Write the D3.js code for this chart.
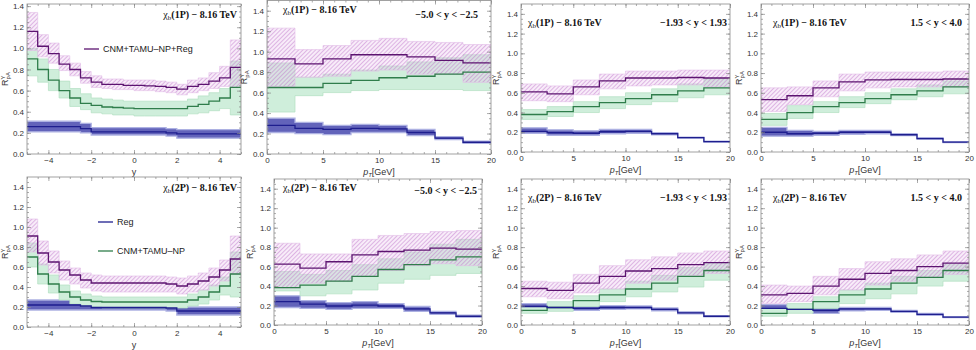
<!DOCTYPE html>
<html>
<head>
<meta charset="utf-8">
<script src="https://cdnjs.cloudflare.com/ajax/libs/d3/7.8.5/d3.min.js"></script>
<style>
body { margin: 0; background: #fff; }
svg { display: block; font-family: 'Liberation Sans', Arial, sans-serif; }
</style>
</head>
<body>
<script>
// bin edges
const yBins = [-5, -4.5, -4, -3.5, -3, -2.5, -2, -1.5, -1, -0.5, 0, 0.5, 1, 1.5, 2, 2.5, 3, 3.5, 4, 4.5, 5]
const ptBins = [0, 2.5, 5, 7.5, 10, 12.5, 15, 17.5, 20]

// each bin: [low, central, high]
// chi_b(1P) vs rapidity
const full1P_y = [[0.98,1.16,1.34],[0.92,1.02,1.13],[0.86,0.95,1.05],[0.79,0.85,0.93],[0.74,0.80,0.86],[0.67,0.72,0.78],[0.63,0.68,0.74],[0.62,0.66,0.71],[0.61,0.66,0.71],[0.61,0.65,0.70],[0.60,0.65,0.70],[0.60,0.645,0.70],[0.59,0.64,0.69],[0.58,0.63,0.68],[0.56,0.615,0.66],[0.58,0.64,0.70],[0.60,0.66,0.72],[0.62,0.69,0.77],[0.64,0.72,0.83],[0.63,0.82,1.08]]
const cnm1P_y = [[0.74,0.90,1.00],[0.68,0.80,0.90],[0.60,0.70,0.80],[0.53,0.60,0.69],[0.45,0.53,0.62],[0.42,0.48,0.57],[0.39,0.46,0.53],[0.38,0.445,0.52],[0.37,0.44,0.51],[0.37,0.435,0.50],[0.36,0.43,0.50],[0.36,0.43,0.50],[0.36,0.43,0.50],[0.36,0.43,0.50],[0.36,0.43,0.50],[0.38,0.45,0.52],[0.39,0.47,0.55],[0.41,0.50,0.58],[0.43,0.53,0.62],[0.37,0.63,0.88]]
const reg1P_y = [[0.21,0.26,0.31],[0.21,0.26,0.31],[0.21,0.26,0.31],[0.21,0.26,0.31],[0.21,0.26,0.31],[0.20,0.24,0.29],[0.18,0.21,0.25],[0.18,0.21,0.25],[0.18,0.21,0.25],[0.18,0.21,0.25],[0.18,0.21,0.25],[0.18,0.21,0.25],[0.18,0.21,0.25],[0.17,0.20,0.24],[0.15,0.19,0.23],[0.15,0.19,0.23],[0.15,0.19,0.23],[0.15,0.19,0.23],[0.15,0.19,0.23],[0.15,0.19,0.23]]

// chi_b(1P) vs pT
const full1P_bwd = [[0.66,0.93,1.23],[0.75,0.88,1.02],[0.76,0.93,1.06],[0.81,0.97,1.11],[0.82,0.97,1.13],[0.78,0.95,1.10],[0.78,0.915,1.09],[0.70,0.89,1.07]]
const cnm1P_bwd = [[0.41,0.65,0.89],[0.57,0.65,0.75],[0.60,0.69,0.78],[0.62,0.72,0.82],[0.63,0.745,0.86],[0.63,0.76,0.90],[0.63,0.78,0.94],[0.62,0.80,0.97]]
const reg1P_bwd = [[0.21,0.28,0.35],[0.20,0.25,0.31],[0.19,0.24,0.28],[0.21,0.25,0.29],[0.21,0.245,0.28],[0.18,0.21,0.24],[0.14,0.155,0.17],[0.105,0.115,0.125]]

const full1P_mid = [[0.52,0.61,0.69],[0.51,0.59,0.67],[0.58,0.66,0.73],[0.64,0.72,0.79],[0.67,0.75,0.82],[0.68,0.75,0.82],[0.68,0.755,0.83],[0.66,0.75,0.83]]
const cnm1P_mid = [[0.33,0.38,0.43],[0.36,0.41,0.46],[0.40,0.46,0.51],[0.44,0.50,0.56],[0.48,0.54,0.60],[0.51,0.58,0.64],[0.55,0.62,0.69],[0.58,0.65,0.74]]
const reg1P_mid = [[0.19,0.21,0.245],[0.17,0.195,0.225],[0.17,0.19,0.215],[0.185,0.205,0.23],[0.19,0.21,0.23],[0.175,0.185,0.195],[0.14,0.145,0.15],[0.10,0.105,0.11]]

const full1P_fwd = [[0.41,0.53,0.65],[0.48,0.57,0.66],[0.56,0.65,0.72],[0.62,0.71,0.79],[0.65,0.73,0.81],[0.66,0.735,0.81],[0.66,0.735,0.81],[0.66,0.74,0.82]]
const cnm1P_fwd = [[0.27,0.33,0.39],[0.34,0.40,0.47],[0.40,0.46,0.51],[0.45,0.50,0.56],[0.49,0.54,0.60],[0.53,0.58,0.64],[0.56,0.62,0.68],[0.59,0.66,0.72]]
const reg1P_fwd = [[0.16,0.20,0.25],[0.16,0.185,0.22],[0.17,0.19,0.21],[0.18,0.20,0.22],[0.185,0.20,0.22],[0.165,0.175,0.185],[0.13,0.135,0.145],[0.095,0.10,0.105]]

// chi_b(2P) vs rapidity
const full2P_y = [[0.75,0.91,1.08],[0.62,0.74,0.86],[0.54,0.65,0.76],[0.47,0.57,0.66],[0.43,0.52,0.59],[0.39,0.47,0.54],[0.36,0.44,0.52],[0.35,0.44,0.51],[0.35,0.44,0.51],[0.35,0.44,0.51],[0.35,0.44,0.51],[0.35,0.44,0.51],[0.35,0.44,0.51],[0.35,0.43,0.50],[0.33,0.41,0.49],[0.35,0.43,0.51],[0.37,0.46,0.54],[0.41,0.50,0.59],[0.46,0.57,0.67],[0.53,0.68,0.91]]
const cnm2P_y = [[0.60,0.70,0.84],[0.43,0.53,0.63],[0.34,0.43,0.52],[0.27,0.35,0.42],[0.23,0.30,0.36],[0.21,0.27,0.33],[0.20,0.255,0.31],[0.19,0.25,0.30],[0.19,0.25,0.30],[0.19,0.25,0.30],[0.19,0.25,0.30],[0.19,0.25,0.30],[0.19,0.25,0.30],[0.19,0.25,0.30],[0.19,0.25,0.30],[0.21,0.27,0.33],[0.23,0.30,0.37],[0.27,0.35,0.42],[0.32,0.41,0.50],[0.30,0.53,0.75]]
const reg2P_y = [[0.17,0.22,0.27],[0.17,0.22,0.27],[0.17,0.22,0.27],[0.17,0.22,0.27],[0.17,0.22,0.27],[0.17,0.21,0.25],[0.17,0.195,0.22],[0.17,0.195,0.22],[0.17,0.195,0.22],[0.17,0.195,0.22],[0.17,0.195,0.22],[0.17,0.195,0.22],[0.17,0.195,0.22],[0.16,0.19,0.22],[0.12,0.16,0.20],[0.12,0.16,0.20],[0.12,0.16,0.20],[0.12,0.16,0.20],[0.12,0.16,0.20],[0.12,0.16,0.20]]

// chi_b(2P) vs pT
const full2P_bwd = [[0.38,0.625,0.84],[0.43,0.585,0.73],[0.45,0.65,0.73],[0.50,0.72,0.88],[0.56,0.755,0.92],[0.61,0.77,0.94],[0.63,0.79,0.96],[0.61,0.78,0.97]]
const cnm2P_bwd = [[0.35,0.385,0.55],[0.30,0.41,0.52],[0.32,0.45,0.56],[0.36,0.50,0.62],[0.43,0.57,0.68],[0.47,0.62,0.75],[0.51,0.67,0.83],[0.53,0.70,0.88]]
const reg2P_bwd = [[0.18,0.24,0.30],[0.17,0.215,0.25],[0.16,0.195,0.23],[0.17,0.205,0.24],[0.17,0.195,0.22],[0.14,0.165,0.19],[0.11,0.125,0.14],[0.08,0.09,0.10]]

const full2P_mid = [[0.29,0.375,0.45],[0.27,0.355,0.44],[0.33,0.43,0.52],[0.37,0.50,0.61],[0.43,0.555,0.67],[0.46,0.58,0.70],[0.51,0.62,0.74],[0.53,0.64,0.76]]
const cnm2P_mid = [[0.12,0.15,0.19],[0.14,0.18,0.24],[0.19,0.25,0.30],[0.24,0.31,0.37],[0.29,0.37,0.45],[0.34,0.43,0.51],[0.39,0.50,0.59],[0.46,0.56,0.64]]
const reg2P_mid = [[0.16,0.19,0.22],[0.155,0.18,0.205],[0.15,0.17,0.195],[0.16,0.18,0.20],[0.165,0.18,0.195],[0.145,0.16,0.175],[0.115,0.125,0.135],[0.085,0.09,0.095]]

const full2P_fwd = [[0.22,0.31,0.41],[0.24,0.325,0.40],[0.31,0.40,0.50],[0.36,0.47,0.58],[0.41,0.53,0.65],[0.45,0.56,0.68],[0.49,0.60,0.72],[0.52,0.635,0.76]]
const cnm2P_fwd = [[0.09,0.12,0.17],[0.12,0.16,0.22],[0.17,0.24,0.29],[0.22,0.31,0.36],[0.27,0.37,0.43],[0.32,0.43,0.50],[0.40,0.49,0.56],[0.45,0.56,0.62]]
const reg2P_fwd = [[0.14,0.17,0.21],[0.13,0.16,0.19],[0.12,0.15,0.18],[0.145,0.165,0.18],[0.15,0.165,0.18],[0.13,0.14,0.15],[0.10,0.11,0.12],[0.075,0.08,0.085]]

const yTicksMajor = [0, 0.2, 0.4, 0.6, 0.8, 1.0, 1.2, 1.4]
const rapTicks = [-4, -2, 0, 2, 4]
const ptTicks = [0, 5, 10, 15, 20]

// panel layout
const panels = [
    {left: 27, right: 241, top: 4, bottom: 154, ymax: 1.42, edges: yBins, kind: 'y', state: '1P',
        full: full1P_y, cnm: cnm1P_y, reg: reg1P_y, titleX: 237, titleY: 18, anchor: 'end', labX: 8},
    {left: 267, right: 491, top: 0.5, bottom: 154, ymax: 1.5, edges: ptBins, kind: 'pt', state: '1P',
        full: full1P_bwd, cnm: cnm1P_bwd, reg: reg1P_bwd, titleX: 283, titleY: 13, anchor: 'start',
        range: '−5.0 < y < −2.5', rangeX: 478, rangeY: 18, labX: 247},
    {left: 521, right: 730, top: 4, bottom: 152, ymax: 1.5, edges: ptBins, kind: 'pt', state: '1P',
        full: full1P_mid, cnm: cnm1P_mid, reg: reg1P_mid, titleX: 528, titleY: 26, anchor: 'start',
        range: '−1.93 < y < 1.93', rangeX: 727, rangeY: 26, labX: 499},
    {left: 761, right: 969, top: 4, bottom: 152, ymax: 1.5, edges: ptBins, kind: 'pt', state: '1P',
        full: full1P_fwd, cnm: cnm1P_fwd, reg: reg1P_fwd, titleX: 773, titleY: 26, anchor: 'start',
        range: '1.5 < y < 4.0', rangeX: 962, rangeY: 26, labX: 742},
    {left: 27, right: 241, top: 177, bottom: 327, ymax: 1.5, edges: yBins, kind: 'y', state: '2P',
        full: full2P_y, cnm: cnm2P_y, reg: reg2P_y, titleX: 237, titleY: 191, anchor: 'end', labX: 8},
    {left: 274, right: 482, top: 179, bottom: 325, ymax: 1.5, edges: ptBins, kind: 'pt', state: '2P',
        full: full2P_bwd, cnm: cnm2P_bwd, reg: reg2P_bwd, titleX: 283, titleY: 191, anchor: 'start',
        range: '−5.0 < y < −2.5', rangeX: 477, rangeY: 194, labX: 253},
    {left: 521, right: 730, top: 179, bottom: 325, ymax: 1.5, edges: ptBins, kind: 'pt', state: '2P',
        full: full2P_mid, cnm: cnm2P_mid, reg: reg2P_mid, titleX: 528, titleY: 201, anchor: 'start',
        range: '−1.93 < y < 1.93', rangeX: 727, rangeY: 201, labX: 499},
    {left: 761, right: 969, top: 179, bottom: 325, ymax: 1.5, edges: ptBins, kind: 'pt', state: '2P',
        full: full2P_fwd, cnm: cnm2P_fwd, reg: reg2P_fwd, titleX: 773, titleY: 201, anchor: 'start',
        range: '1.5 < y < 4.0', rangeX: 962, rangeY: 201, labX: 742}
]

const colors = {full: '#5c1470', cnm: '#2f7d4b', reg: '#1e1e8e'}
const serif = '"Liberation Serif", "DejaVu Serif", serif'

const svg = d3.select('body').append('svg')
    .attr('width', 976)
    .attr('height', 350)

const defs = svg.append('defs')
const pat = defs.append('pattern')
    .attr('id', 'hatch')
    .attr('patternUnits', 'userSpaceOnUse')
    .attr('width', 3)
    .attr('height', 3)
    .attr('patternTransform', 'rotate(45)')
pat.append('rect')
    .attr('width', 3).attr('height', 3)
    .attr('fill', 'rgba(236,200,238,0.35)')
pat.append('line')
    .attr('x1', 0).attr('y1', 0).attr('x2', 0).attr('y2', 3)
    .attr('stroke', '#bd72c8')
    .attr('stroke-width', 0.9)

// turn bins into step points
function steps(edges, bins) {
    const pts = bins.map((d, i) => ({x: edges[i], lo: d[0], c: d[1], hi: d[2]}))
    const last = bins[bins.length - 1]
    pts.push({x: edges[edges.length - 1], lo: last[0], c: last[1], hi: last[2]})
    return pts
}

function frameAxis(g, axisFn, scale, tr, major, minor, fmt) {
    const a = g.append('g').attr('transform', tr)
    a.call(axisFn(scale).tickValues(minor).tickSize(-2).tickFormat(''))
    a.append('g').call(axisFn(scale).tickValues(major).tickSize(-4).tickPadding(3).tickFormat(fmt))
    a.selectAll('.domain').remove()
    a.selectAll('line').attr('stroke', '#888').attr('stroke-width', 0.7)
    a.selectAll('text').attr('fill', '#333').style('font-size', '8px')
        .style('font-family', '"Liberation Sans", Arial, sans-serif')
}

function drawPanel(p, idx) {
    const g = svg.append('g')
    const x = d3.scaleLinear().domain([p.edges[0], p.edges[p.edges.length - 1]]).range([p.left, p.right])
    const y = d3.scaleLinear().domain([0, p.ymax]).range([p.bottom, p.top])

    const clipId = 'clip' + idx
    defs.append('clipPath').attr('id', clipId)
        .append('rect')
        .attr('x', p.left).attr('y', p.top)
        .attr('width', p.right - p.left).attr('height', p.bottom - p.top)

    const plot = g.append('g').attr('clip-path', 'url(#' + clipId + ')')

    const area = d3.area().curve(d3.curveStepAfter)
        .x(d => x(d.x)).y0(d => y(d.lo)).y1(d => y(d.hi))
    const line = d3.line().curve(d3.curveStepAfter)
        .x(d => x(d.x)).y(d => y(d.c))

    const reg = steps(p.edges, p.reg)
    const cnm = steps(p.edges, p.cnm)
    const full = steps(p.edges, p.full)

    // bands
    plot.append('path').datum(reg).attr('d', area)
        .attr('fill', '#6263ba').attr('stroke', '#adb1e2').attr('stroke-width', 1.3)
    plot.append('path').datum(cnm).attr('d', area)
        .attr('fill', '#cfeedb').attr('stroke', '#b2dfc2').attr('stroke-width', 0.7)
    plot.append('path').datum(full).attr('d', area)
        .attr('fill', 'url(#hatch)').attr('stroke', '#e2bde7').attr('stroke-width', 0.6)

    // central lines
    plot.append('path').datum(full).attr('d', line)
        .attr('fill', 'none').attr('stroke', colors.full).attr('stroke-width', 1.3)
    plot.append('path').datum(cnm).attr('d', line)
        .attr('fill', 'none').attr('stroke', colors.cnm).attr('stroke-width', 1.3)
    plot.append('path').datum(reg).attr('d', line)
        .attr('fill', 'none').attr('stroke', colors.reg).attr('stroke-width', 1.3)

    // frame + ticks
    const xMajor = p.kind === 'y' ? rapTicks : ptTicks
    const xMinor = p.kind === 'y' ? d3.range(-5, 5.01, 0.5) : d3.range(0, 20.01, 1)
    const yMinor = d3.range(0, p.ymax, 0.05)
    frameAxis(g, d3.axisBottom, x, `translate(0,${p.bottom})`, xMajor, xMinor, d3.format('d'))
    frameAxis(g, d3.axisTop, x, `translate(0,${p.top})`, xMajor, xMinor, '')
    frameAxis(g, d3.axisLeft, y, `translate(${p.left},0)`, yTicksMajor, yMinor, d3.format('.1f'))
    frameAxis(g, d3.axisRight, y, `translate(${p.right},0)`, yTicksMajor, yMinor, '')

    g.append('rect')
        .attr('x', p.left).attr('y', p.top)
        .attr('width', p.right - p.left).attr('height', p.bottom - p.top)
        .attr('fill', 'none').attr('stroke', '#8a8a8a').attr('stroke-width', 0.8)

    // y label
    const yl = g.append('text')
        .attr('transform', `translate(${p.labX},${(p.top + p.bottom) / 2}) rotate(-90)`)
        .attr('text-anchor', 'middle')
        .attr('fill', '#333')
        .style('font-size', '9px')
    yl.append('tspan').text('R')
    yl.append('tspan').attr('dy', -3).style('font-size', '6px').text('Υ')
    yl.append('tspan').attr('dy', 5).attr('dx', -4).style('font-size', '6px').text('pA')

    // x label
    const xl = g.append('text')
        .attr('x', (p.left + p.right) / 2)
        .attr('y', Math.min(p.bottom + 21, 349))
        .attr('text-anchor', 'middle')
        .attr('fill', '#333')
        .style('font-size', '9px')
    if (p.kind === 'y') {
        xl.text('y')
    } else {
        xl.append('tspan').style('font-style', 'italic').text('p')
        xl.append('tspan').attr('dy', 2).style('font-size', '6px').style('font-style', 'italic').text('T')
        xl.append('tspan').attr('dy', -2).text('[GeV]')
    }

    // title
    const t = g.append('text')
        .attr('x', p.titleX).attr('y', p.titleY)
        .attr('text-anchor', p.anchor)
        .attr('fill', '#111')
        .style('font-family', serif)
        .style('font-size', '10px')
    t.append('tspan').text('χ')
    t.append('tspan').attr('dy', 2).style('font-size', '7px').text('b')
    t.append('tspan').attr('dy', -2).style('font-weight', 'bold').text('(' + p.state + ') − 8.16 TeV')

    if (p.range) {
        g.append('text')
            .attr('x', p.rangeX).attr('y', p.rangeY)
            .attr('text-anchor', 'end')
            .attr('fill', '#111')
            .style('font-family', serif)
            .style('font-size', '10px')
            .style('font-weight', 'bold')
            .text(p.range)
    }
}

panels.forEach(drawPanel)

// legends
function legendItem(lx, ly, color, label) {
    svg.append('line')
        .attr('x1', lx).attr('x2', lx + 15)
        .attr('y1', ly).attr('y2', ly)
        .attr('stroke', color).attr('stroke-width', 1.3)
    svg.append('text')
        .attr('x', lx + 19).attr('y', ly + 3)
        .attr('fill', '#222')
        .style('font-size', '9px')
        .text(label)
}
legendItem(84, 49, colors.full, 'CNM+TAMU–NP+Reg')
legendItem(98, 222, colors.reg, 'Reg')
legendItem(98, 251, colors.cnm, 'CNM+TAMU–NP')
</script>
</body>
</html>
